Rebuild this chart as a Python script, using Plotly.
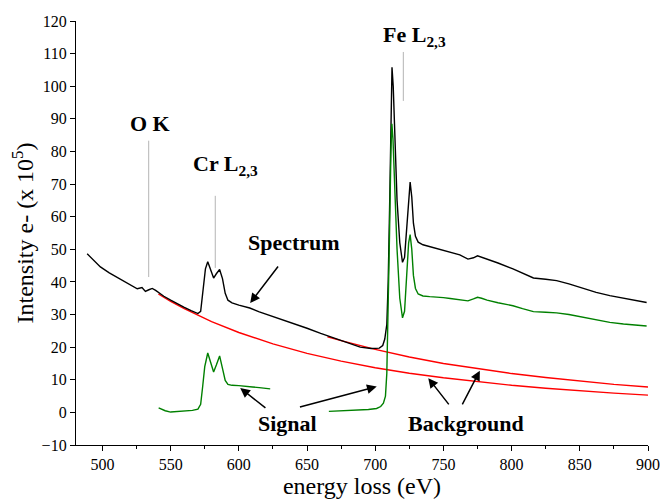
import plotly.graph_objects as go

# Spectrum (black)
spec_x = [488.8, 492, 498.5, 505, 513, 520, 525.5, 529, 531.5, 534, 536.5, 539, 541.5, 545, 550, 555, 560, 565, 570,
          572, 574, 575.5, 577.2, 579, 581.5, 583.5, 585.9, 588, 590, 592, 595, 600, 608, 615, 622, 632, 640, 650,
          660, 670, 680, 689, 697, 703, 705.5, 707, 708.5, 709.5, 710.5, 711.5, 712.3, 713.2, 714.5, 716, 718, 720,
          721.5, 723, 724.5, 725.6, 726.8, 728, 729.5, 731.5, 735, 740, 745, 750, 755, 762, 768, 772, 775, 778, 782,
          790, 801, 808, 816, 825, 833, 842, 850, 862, 872, 882, 890, 899]
spec_y = [48.6, 47.2, 44.6, 42.8, 40.9, 39.3, 37.9, 38.3, 37.1, 37.6, 38.0, 37.4, 36.6, 35.6, 34.4, 33.2, 32.2, 31.2, 30.3,
          31.0, 38.0, 44.0, 46.2, 44.0, 41.2, 42.5, 43.8, 41.0, 36.5, 34.4, 33.6, 32.9, 32.0, 30.8, 29.8, 28.4, 27.3, 25.8,
          24.2, 22.7, 21.2, 20.0, 19.6, 19.7, 20.5, 22.5, 27.0, 40.0, 62.0, 90.0, 105.8, 100.0, 84.0, 65.0, 52.0, 46.0,
          47.5, 56.0, 67.0, 70.6, 66.0, 58.0, 54.0, 52.2, 51.4, 50.8, 50.3, 49.8, 49.2, 48.3, 47.0, 47.4, 48.0, 47.6, 47.0,
          45.8, 44.0, 42.6, 41.2, 40.8, 40.4, 39.4, 38.3, 36.8, 35.8, 35.0, 34.3, 33.7]

# Signal after Fe background subtraction (green)
fe_sig_x = [666, 680, 695, 701, 704, 706, 707.5, 708.5, 709.5, 710.5, 711.5, 712.2, 713, 714.5, 716, 718, 720, 721.5,
            723, 724.5, 725.6, 726.8, 728, 729.5, 731.5, 735, 740, 745, 750, 755, 762, 768, 772, 775, 778, 782, 790,
            801, 808, 816, 825, 833, 842, 850, 862, 872, 882, 890, 899]
fe_sig_y = [0.3, 0.5, 0.9, 1.2, 1.8, 2.8, 5.0, 12.0, 30.0, 55.0, 80.0, 88.5, 84.0, 68.0, 50.0, 35.0, 29.0, 31.0,
            42.0, 52.0, 54.5, 50.0, 42.0, 38.0, 36.3, 35.7, 35.5, 35.4, 35.2, 34.9, 34.6, 34.2, 34.8, 35.3, 35.0, 34.4, 33.6,
            32.7, 31.8, 30.9, 30.7, 30.5, 30.0, 29.4, 28.3, 27.6, 27.1, 26.8, 26.5]

# Signal after Cr background subtraction (green)
cr_sig_x = [541.2, 543, 546, 550, 556, 562, 566, 570, 572, 573.5, 575, 577.2, 579, 581.5, 583.5, 585.9, 588, 590, 592,
            595, 600, 605, 610, 615, 620, 623]
cr_sig_y = [1.4, 1.0, 0.5, 0.1, 0.2, 0.4, 0.6, 1.0, 2.5, 8.0, 14.0, 18.2, 16.0, 12.4, 14.5, 17.3, 13.5, 9.8, 8.6,
            8.3, 8.2, 8.1, 7.8, 7.6, 7.4, 7.2]

# Backgrounds (red)
cr_bg_x = [541, 550, 560, 570, 580, 600, 625, 650, 675, 700, 725, 750, 775, 800, 825, 850, 875, 900]
cr_bg_y = [36.3, 34.0, 31.8, 29.7, 27.8, 24.5, 21.0, 18.1, 15.7, 13.7, 12.0, 10.6, 9.4, 8.3, 7.4, 6.6, 5.9, 5.3]
fe_bg_x = [665, 675, 700, 725, 750, 775, 800, 825, 850, 875, 900]
fe_bg_y = [23.2, 22.0, 19.3, 17.0, 15.0, 13.4, 11.9, 10.7, 9.6, 8.6, 7.8]

x_ticks = [500, 550, 600, 650, 700, 750, 800, 850, 900]
y_ticks = [-10, 0, 10, 20, 30, 40, 50, 60, 70, 80, 90, 100, 110, 120]

FONT = "Liberation Serif"
LW = 1.4

fig = go.Figure()
fig.add_trace(go.Scatter(x=cr_bg_x, y=cr_bg_y, mode="lines", line=dict(color="#ff0000", width=LW), showlegend=False))
fig.add_trace(go.Scatter(x=fe_bg_x, y=fe_bg_y, mode="lines", line=dict(color="#ff0000", width=LW), showlegend=False))
fig.add_trace(go.Scatter(x=spec_x, y=spec_y, mode="lines", line=dict(color="#000000", width=LW), showlegend=False))
fig.add_trace(go.Scatter(x=cr_sig_x, y=cr_sig_y, mode="lines", line=dict(color="#008000", width=LW), showlegend=False))
fig.add_trace(go.Scatter(x=fe_sig_x, y=fe_sig_y, mode="lines", line=dict(color="#008000", width=LW), showlegend=False))

# edge marker lines
edge_lines = [(533.9, 41.5, 83.3), (582.7, 44.3, 66.4), (720.6, 95.5, 110.5)]
for ex, y0, y1 in edge_lines:
    fig.add_shape(type="line", xref="x", yref="y", x0=ex, x1=ex, y0=y0, y1=y1,
                  line=dict(color="#b4b4b4", width=1))

labels = [
    ("O K", 534.5, 88.5),
    ("Cr L<sub>2,3</sub>", 590, 76.0),
    ("Fe L<sub>2,3</sub>", 728.8, 115.5),
    ("Spectrum", 640.5, 52.0),
    ("Signal", 635.4, -3.5),
    ("Background", 766.5, -3.5),
]
for t, lx, ly in labels:
    fig.add_annotation(x=lx, y=ly, xref="x", yref="y", text="<b>" + t + "</b>", showarrow=False,
                       font=dict(family=FONT, size=22, color="black"), xanchor="center", yanchor="middle")

arrows = [
    (629.6, 45.2, 608.3, 33.5),
    (620.6, 1.0, 601.0, 7.5),
    (643.7, 1.5, 701.1, 7.9),
    (754.8, 2.0, 738.9, 10.5),
    (763.3, 2.0, 776.7, 12.8),
]
for tx, ty, hx, hy in arrows:
    fig.add_annotation(x=hx, y=hy, ax=tx, ay=ty, xref="x", yref="y", axref="x", ayref="y",
                       text="", showarrow=True, arrowhead=2, arrowsize=1.3, arrowwidth=1.5, arrowcolor="black")

fig.update_layout(
    width=660, height=502,
    margin=dict(l=76, r=12, t=21, b=57),
    plot_bgcolor="white", paper_bgcolor="white",
    font=dict(family=FONT, color="black"),
)
fig.update_xaxes(range=[480.6, 900], tickvals=x_ticks, showgrid=False, zeroline=False, automargin=False,
                 showline=True, linecolor="black", linewidth=1.3, ticks="outside", ticklen=5, tickwidth=1.3,
                 tickcolor="black", tickfont=dict(family=FONT, size=16),
                 minor=dict(dtick=25, tick0=500, ticks="outside", ticklen=3, tickcolor="black", tickwidth=1.2),
                 title=dict(text="energy loss (eV)", font=dict(family=FONT, size=24), standoff=4))
fig.update_yaxes(range=[-10, 120], tickvals=y_ticks, showgrid=False, zeroline=False, automargin=False,
                 showline=True, linecolor="black", linewidth=1.3, ticks="outside", ticklen=5, tickwidth=1.3,
                 tickcolor="black", tickfont=dict(family=FONT, size=16),
                 title=dict(text="Intensity e- (x 10<sup>5</sup>)", font=dict(family=FONT, size=24), standoff=1))

# remove the default 8px page margin so the figure fills the 660x502 window exactly
fig.write_html("out.html", config={"displayModeBar": False},
               post_script="document.body.style.margin='0';document.body.style.overflow='hidden';")
